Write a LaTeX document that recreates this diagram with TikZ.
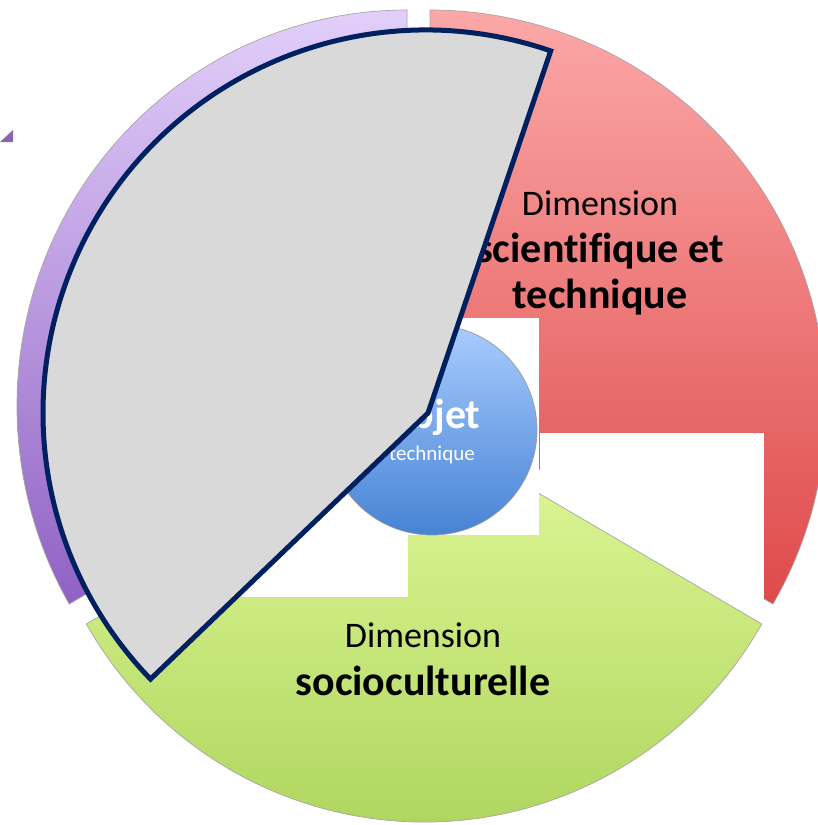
\documentclass[tikz,border=0pt]{standalone}
\usepackage{fontspec}
\setmainfont{Carlito}[Ligatures=NoCommon]
\definecolor{redtop}{HTML}{FCA8A8}
\definecolor{redbot}{HTML}{DE4A4A}
\definecolor{grntop}{HTML}{E2FA9A}
\definecolor{grnbot}{HTML}{A9D158}
\definecolor{purtop}{HTML}{E2CFFA}
\definecolor{purbot}{HTML}{8F62C4}
\definecolor{blutop}{HTML}{A9CCFF}
\definecolor{blubot}{HTML}{4683D4}
\definecolor{greyfill}{HTML}{D9D9D9}
\definecolor{navy}{HTML}{002060}
\definecolor{tri}{HTML}{8A66B0}
\begin{document}
\begin{tikzpicture}[x=1pt,y=1pt,
  segment/.style={draw=black!35, line width=0.7pt},
  blank/.style={fill=white, draw=none},
  lblbold/.style={anchor=base, inner sep=0pt, text=black, font=\fontsize{42}{50}\selectfont\bfseries},
  lblnorm/.style={anchor=base, inner sep=0pt, text=black, font=\fontsize{36}{44}\selectfont}]
\useasboundingbox (0,0) rectangle (817,-825);

% red segment
\shadedraw[segment, top color=redtop, bottom color=redbot]
  (430,-406) -- ++(-30:396) arc[start angle=-30, end angle=90, radius=396] -- cycle;
% white patch over red
\fill[blank] (540,-433) rectangle (764,-600);
% purple segment
\shadedraw[segment, top color=purtop, bottom color=purbot]
  (407,-406) -- ++(0,396) arc[start angle=90, end angle=210, x radius=390, y radius=396] -- cycle;
% green segment
\shadedraw[segment, top color=grntop, bottom color=grnbot]
  (424,-426) -- ++(-337.7,-198) arc[start angle=210, end angle=330, x radius=390, y radius=396] -- cycle;
% white patches
\fill[blank] (200,-500) rectangle (408,-597);
\fill[blank] (300,-318) rectangle (539,-535);

% centre circle
\shadedraw[draw=black!40, line width=0.7pt, top color=blutop, bottom color=blubot]
  (432,-430) circle[radius=105];
\node[anchor=base, inner sep=0pt, text=white, font=\fontsize{42}{50}\selectfont\bfseries] (obj) at (432,-428) {Objet};
\node[anchor=base, inner sep=0pt, text=white, font=\fontsize{21}{26}\selectfont] (tech) at (432,-460) {technique};

% red labels
\node[lblnorm] (r1) at (600,-215) {Dimension};
\node[lblbold] (r2) at (600,-262) {scientifique et};
\node[lblbold] (r3) at (600,-308) {technique};
% green labels
\node[lblnorm] (g1) at (423,-647) {Dimension};
\node[lblbold] (g2) at (423,-695) {socioculturelle};

% grey overlay
\filldraw[fill=greyfill, draw=navy, line width=5pt, line join=miter]
  (428,-413) -- (550.7,-50.9) arc[start angle=71, end angle=224, radius=383] -- cycle;

% small purple triangle
\fill[tri] (0,-142) -- (13,-130) -- (13,-142) -- cycle;
\end{tikzpicture}
\end{document}
